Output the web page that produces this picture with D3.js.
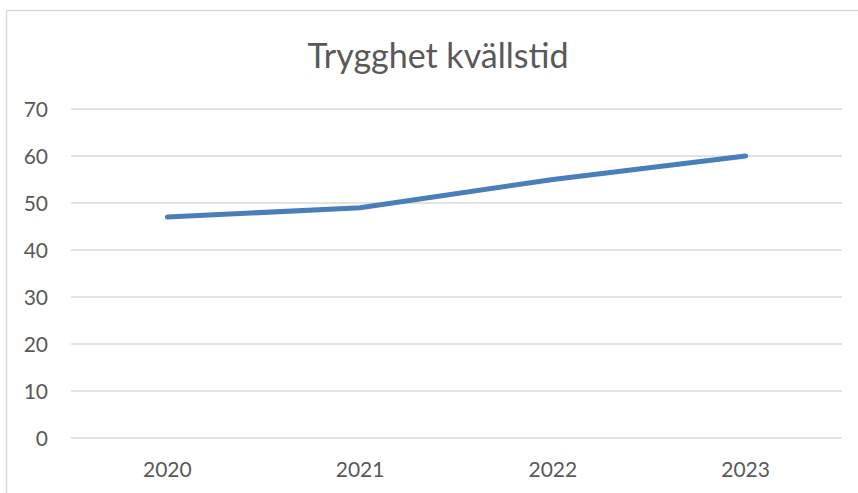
<!DOCTYPE html>
<html>
<head>
<meta charset="utf-8">
<script src="https://cdn.jsdelivr.net/npm/d3@7"></script>
<style>
  body { margin: 0; background: #fff; }
  text { font-family: Lato, "Open Sans", sans-serif; fill: #595959; }
</style>
</head>
<body>
<script>
var years = ["2020", "2021", "2022", "2023"];
var values = [47, 49, 55, 60];
var yTicks = [0, 10, 20, 30, 40, 50, 60, 70];
var title = "Trygghet kvällstid";

var width = 858, height = 493;
var margin = {left: 71, right: 16, top: 109, bottom: 55};

var svg = d3.select("body").append("svg")
    .attr("width", width)
    .attr("height", height);

// chart frame
svg.append("rect")
    .attr("x", 6.5).attr("y", 10.5)
    .attr("width", width).attr("height", height)
    .attr("fill", "none")
    .attr("stroke", "#d9d9d9")
    .attr("stroke-width", 1.5);

var x = d3.scaleBand()
    .domain(years)
    .range([margin.left, width - margin.right]);

var y = d3.scaleLinear()
    .domain([0, 70])
    .range([height - margin.bottom, margin.top]);

// gridlines
svg.append("g").selectAll("line")
    .data(yTicks)
  .enter().append("line")
    .attr("x1", margin.left)
    .attr("x2", width - margin.right)
    .attr("y1", d => y(d))
    .attr("y2", d => y(d))
    .attr("stroke", "#d9d9d9")
    .attr("stroke-width", 1.5);

// y labels
svg.append("g").selectAll("text")
    .data(yTicks)
  .enter().append("text")
    .attr("x", 48)
    .attr("y", d => y(d))
    .attr("dy", "0.36em")
    .attr("text-anchor", "end")
    .style("font-size", "21px")
    .text(d => d);

// x labels
svg.append("g").selectAll("text")
    .data(years)
  .enter().append("text")
    .attr("x", d => x(d) + x.bandwidth() / 2)
    .attr("y", 477)
    .attr("text-anchor", "middle")
    .style("font-size", "21px")
    .text(d => d);

var line = d3.line()
    .x((d, i) => x(years[i]) + x.bandwidth() / 2)
    .y(d => y(d));

svg.append("path")
    .datum(values)
    .attr("d", line)
    .attr("fill", "none")
    .attr("stroke", "#4a7ebb")
    .attr("stroke-width", 5)
    .attr("stroke-linecap", "round")
    .attr("stroke-linejoin", "round");

svg.append("text")
    .attr("x", 438)
    .attr("y", 68)
    .attr("text-anchor", "middle")
    .style("font-size", "34px")
    .text(title);
</script>
</body>
</html>
